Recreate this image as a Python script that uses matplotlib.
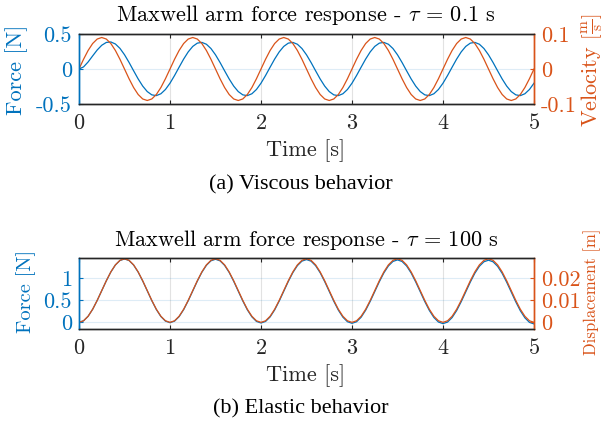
import numpy as np
import matplotlib
matplotlib.use("Agg")
import matplotlib.pyplot as plt

time_s = [round(0.05 * i, 2) for i in range(101)]

# (a) viscous: tau = 0.1 s
force_visc = [
    0.0000, 0.0298, 0.1002, 0.1871, 0.2716, 0.3392, 0.3795, 0.3862, 0.3573, 0.2948,
    0.2041, 0.0939, -0.0251, -0.1416, -0.2440, -0.3225, -0.3694, -0.3801, -0.3536, -0.2925,
    -0.2027, -0.0931, 0.0256, 0.1419, 0.2442, 0.3226, 0.3694, 0.3801, 0.3536, 0.2925,
    0.2027, 0.0931, -0.0256, -0.1419, -0.2442, -0.3226, -0.3694, -0.3801, -0.3536, -0.2925,
    -0.2027, -0.0931, 0.0256, 0.1419, 0.2442, 0.3226, 0.3694, 0.3801, 0.3536, 0.2925,
    0.2027, 0.0931, -0.0256, -0.1419, -0.2442, -0.3226, -0.3694, -0.3801, -0.3536, -0.2925,
    -0.2027, -0.0931, 0.0256, 0.1419, 0.2442, 0.3226, 0.3694, 0.3801, 0.3536, 0.2925,
    0.2027, 0.0931, -0.0256, -0.1419, -0.2442, -0.3226, -0.3694, -0.3801, -0.3536, -0.2925,
    -0.2027, -0.0931, 0.0256, 0.1419, 0.2442, 0.3226, 0.3694, 0.3801, 0.3536, 0.2925,
    0.2027, 0.0931, -0.0256, -0.1419, -0.2442, -0.3226, -0.3694, -0.3801, -0.3536, -0.2925,
    -0.2027,
]
velocity = [
    0.0, 0.0278, 0.0529, 0.0728, 0.0856, 0.09, 0.0856, 0.0728, 0.0529, 0.0278,
    0.0, -0.0278, -0.0529, -0.0728, -0.0856, -0.09, -0.0856, -0.0728, -0.0529, -0.0278,
    0.0, 0.0278, 0.0529, 0.0728, 0.0856, 0.09, 0.0856, 0.0728, 0.0529, 0.0278,
    0.0, -0.0278, -0.0529, -0.0728, -0.0856, -0.09, -0.0856, -0.0728, -0.0529, -0.0278,
    0.0, 0.0278, 0.0529, 0.0728, 0.0856, 0.09, 0.0856, 0.0728, 0.0529, 0.0278,
    0.0, -0.0278, -0.0529, -0.0728, -0.0856, -0.09, -0.0856, -0.0728, -0.0529, -0.0278,
    0.0, 0.0278, 0.0529, 0.0728, 0.0856, 0.09, 0.0856, 0.0728, 0.0529, 0.0278,
    0.0, -0.0278, -0.0529, -0.0728, -0.0856, -0.09, -0.0856, -0.0728, -0.0529, -0.0278,
    0.0, 0.0278, 0.0529, 0.0728, 0.0856, 0.09, 0.0856, 0.0728, 0.0529, 0.0278,
    0.0, -0.0278, -0.0529, -0.0728, -0.0856, -0.09, -0.0856, -0.0728, -0.0529, -0.0278,
    0.0,
]

# (b) elastic: tau = 100 s
force_elast = [
    0.0000, 0.0346, 0.1361, 0.2941, 0.4935, 0.7144, 0.9354, 1.1347, 1.2927, 1.3942,
    1.4288, 1.3935, 1.2913, 1.1325, 0.9325, 0.7108, 0.4892, 0.2891, 0.1304, 0.0282,
    -0.0072, 0.0275, 0.1289, 0.2870, 0.4863, 0.7072, 0.9282, 1.1275, 1.2856, 1.3870,
    1.4217, 1.3863, 1.2841, 1.1254, 0.9253, 0.7037, 0.4820, 0.2819, 0.1232, 0.0210,
    -0.0143, 0.0203, 0.1218, 0.2798, 0.4791, 0.7001, 0.9210, 1.1204, 1.2784, 1.3799,
    1.4145, 1.3791, 1.2770, 1.1182, 0.9182, 0.6965, 0.4748, 0.2748, 0.1160, 0.0139,
    -0.0215, 0.0132, 0.1146, 0.2726, 0.4720, 0.6929, 0.9139, 1.1132, 1.2713, 1.3727,
    1.4073, 1.3720, 1.2698, 1.1111, 0.9110, 0.6893, 0.4677, 0.2676, 0.1089, 0.0067,
    -0.0286, 0.0060, 0.1074, 0.2655, 0.4648, 0.6858, 0.9067, 1.1060, 1.2641, 1.3655,
    1.4002, 1.3648, 1.2627, 1.1039, 0.9038, 0.6822, 0.4605, 0.2605, 0.1017, -0.0004,
    -0.0358,
]
displacement = [
    0.0, 0.0007, 0.00274, 0.0059, 0.0099, 0.01432, 0.01875, 0.02274, 0.02591, 0.02795,
    0.02865, 0.02795, 0.02591, 0.02274, 0.01875, 0.01432, 0.0099, 0.0059, 0.00274, 0.0007,
    0.0, 0.0007, 0.00274, 0.0059, 0.0099, 0.01432, 0.01875, 0.02274, 0.02591, 0.02795,
    0.02865, 0.02795, 0.02591, 0.02274, 0.01875, 0.01432, 0.0099, 0.0059, 0.00274, 0.0007,
    0.0, 0.0007, 0.00274, 0.0059, 0.0099, 0.01432, 0.01875, 0.02274, 0.02591, 0.02795,
    0.02865, 0.02795, 0.02591, 0.02274, 0.01875, 0.01432, 0.0099, 0.0059, 0.00274, 0.0007,
    0.0, 0.0007, 0.00274, 0.0059, 0.0099, 0.01432, 0.01875, 0.02274, 0.02591, 0.02795,
    0.02865, 0.02795, 0.02591, 0.02274, 0.01875, 0.01432, 0.0099, 0.0059, 0.00274, 0.0007,
    0.0, 0.0007, 0.00274, 0.0059, 0.0099, 0.01432, 0.01875, 0.02274, 0.02591, 0.02795,
    0.02865, 0.02795, 0.02591, 0.02274, 0.01875, 0.01432, 0.0099, 0.0059, 0.00274, 0.0007,
    0.0,
]

x_ticks = [0, 1, 2, 3, 4, 5]
x_ticklabels = ["0", "1", "2", "3", "4", "5"]
visc_force_ticks = [-0.5, 0, 0.5]
visc_force_labels = ["-0.5", "0", "0.5"]
visc_vel_ticks = [-0.1, 0, 0.1]
visc_vel_labels = ["-0.1", "0", "0.1"]
elast_force_ticks = [0, 0.5, 1]
elast_force_labels = ["0", "0.5", "1"]
elast_disp_ticks = [0, 0.01, 0.02]
elast_disp_labels = ["0", "0.01", "0.02"]

# ---------------- style ----------------
plt.rcParams["font.family"] = ["cmr10", "DejaVu Serif"]
plt.rcParams["mathtext.fontset"] = "cm"
plt.rcParams["axes.unicode_minus"] = False

BLUE = "#0072BD"
ORANGE = "#D95319"
DARK = "#262626"
TICK_FS = 16
LABEL_FS = 16
TITLE_FS = 16

W, H = 604, 423
fig = plt.figure(figsize=(W / 100, H / 100), dpi=100)


def px_axes(l, t, r, b):
    return fig.add_axes([l / W, 1 - b / H, (r - l) / W, (b - t) / H])


def style_pair(ax, ax2):
    for a in (ax, ax2):
        a.spines["top"].set_color(DARK)
        a.spines["bottom"].set_color(DARK)
        a.spines["left"].set_color(BLUE)
        a.spines["right"].set_color(ORANGE)
        for s in a.spines.values():
            s.set_linewidth(1.0)
    ax.tick_params(axis="x", direction="in", length=3, width=0.8, colors=DARK,
                   labelsize=TICK_FS, top=True, pad=7)
    ax.tick_params(axis="y", direction="in", length=3, width=0.8, colors=BLUE,
                   labelsize=TICK_FS, pad=5)
    ax2.tick_params(axis="y", direction="in", length=3, width=0.8, colors=ORANGE,
                    labelsize=TICK_FS, pad=5)
    ax.xaxis.grid(True, color=DARK, alpha=0.13, linewidth=0.8)
    ax.yaxis.grid(True, color=BLUE, alpha=0.13, linewidth=0.8)
    ax.set_axisbelow(True)
    ax.set_xlim(0, 5)
    ax.set_xticks(x_ticks, x_ticklabels)


# ---------------- (a) viscous ----------------
ax1 = px_axes(79, 34, 534, 104)
ax1b = ax1.twinx()
ax1.plot(time_s, force_visc, color=BLUE, lw=0.9)
ax1b.plot(time_s, velocity, color=ORANGE, lw=0.9)
ax1.set_ylim(-0.5, 0.5)
ax1b.set_ylim(-0.1, 0.1)
ax1.set_yticks(visc_force_ticks, visc_force_labels)
ax1b.set_yticks(visc_vel_ticks, visc_vel_labels)
style_pair(ax1, ax1b)

fig.text(306 / W, 1 - 15 / H, r"Maxwell arm force response - $\tau$ = 0.1 s",
         ha="center", va="center", fontsize=TITLE_FS, color="black")
fig.text(17 / W, 1 - 70 / H, "Force [N]", rotation=90, ha="center", va="center",
         fontsize=LABEL_FS, color=BLUE)
fig.text(592 / W, 1 - 70 / H, r"Velocity $\left[\frac{\mathrm{m}}{\mathrm{s}}\right]$",
         rotation=90, ha="center", va="center", fontsize=LABEL_FS, color=ORANGE)
fig.text(306 / W, 1 - 151 / H, "Time [s]", ha="center", va="center",
         fontsize=LABEL_FS, color=DARK)
fig.text(301 / W, 1 - 185 / H, "(a) Viscous behavior", ha="center", va="center",
         fontsize=16, color="black", family="Liberation Serif")

# ---------------- (b) elastic ----------------
ax2 = px_axes(79, 258, 534, 329)
ax2b = ax2.twinx()
ax2.plot(time_s, force_elast, color=BLUE, lw=0.9)
ax2b.plot(time_s, displacement, color=ORANGE, lw=0.9)
ax2.set_ylim(-0.15, 1.45)
ax2b.set_ylim(-0.15 / 50, 1.45 / 50)
ax2.set_yticks(elast_force_ticks, elast_force_labels)
ax2b.set_yticks(elast_disp_ticks, elast_disp_labels)
style_pair(ax2, ax2b)

fig.text(306 / W, 1 - 240 / H, r"Maxwell arm force response - $\tau$ = 100 s",
         ha="center", va="center", fontsize=TITLE_FS, color="black")
fig.text(26 / W, 1 - 291 / H, "Force [N]", rotation=90, ha="center", va="center",
         fontsize=14.7, color=BLUE)
fig.text(592 / W, 1 - 292 / H, "Displacement [m]", rotation=90, ha="center",
         va="center", fontsize=12, color=ORANGE)
fig.text(306 / W, 1 - 376 / H, "Time [s]", ha="center", va="center",
         fontsize=LABEL_FS, color=DARK)
fig.text(301 / W, 1 - 409 / H, "(b) Elastic behavior", ha="center", va="center",
         fontsize=16, color="black", family="Liberation Serif")

fig.savefig("out.png", dpi=100)
